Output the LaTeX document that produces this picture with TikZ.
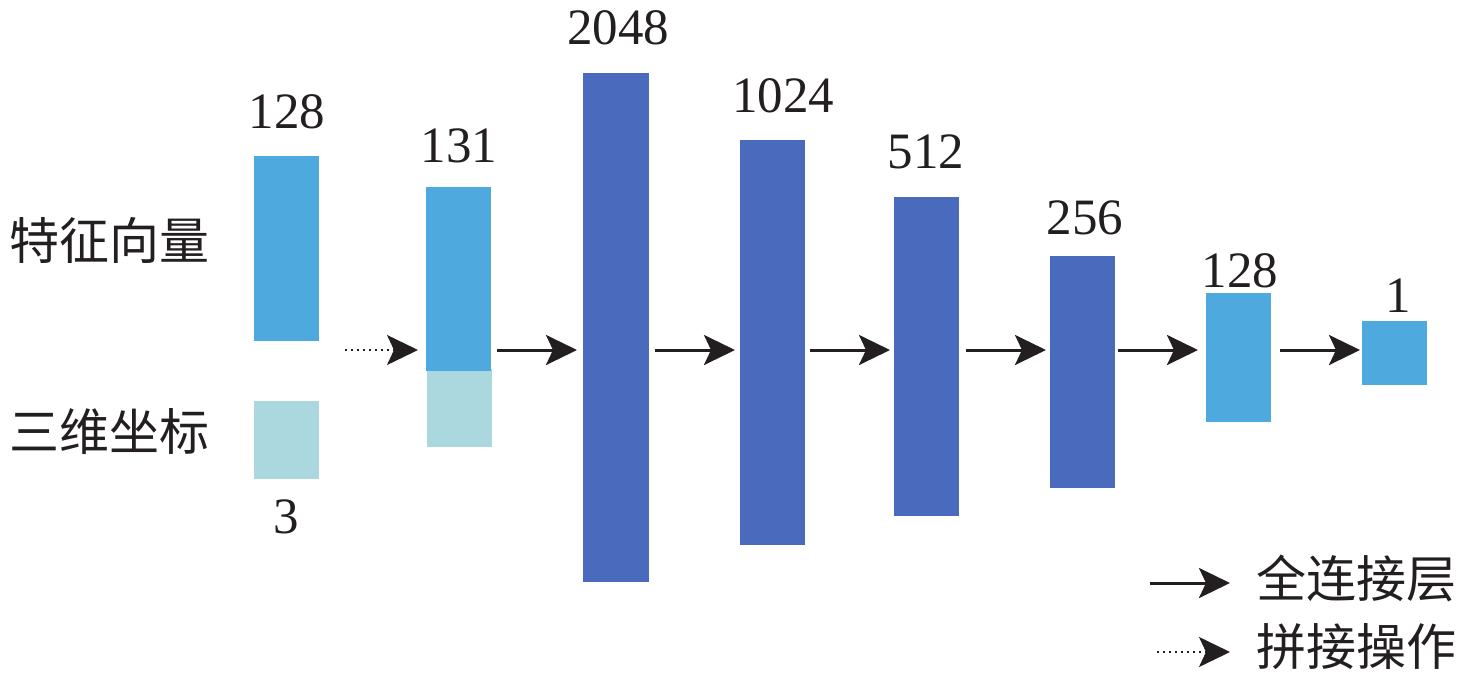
\documentclass[tikz,border=0pt]{standalone}
\usepackage{fontspec}
\setmainfont{Liberation Serif}
\newfontfamily\cjk{Noto Sans CJK SC}
\usetikzlibrary{arrows.meta}
\definecolor{lblue}{HTML}{4EA9DF}
\definecolor{pale}{HTML}{ABD7DE}
\definecolor{dblue}{HTML}{4A6BBD}
\definecolor{ink}{HTML}{231F20}
\tikzset{
  bar/.style={draw=none, inner sep=0, outer sep=0, anchor=north west},
  num/.style={font=\fontsize{51}{51}\selectfont, text=ink, inner sep=0},
  cjklab/.style={font=\cjk\fontsize{50}{50}\selectfont, text=ink, inner sep=0},
  arr/.style={line width=3pt, draw=ink, -{Stealth[length=31pt,width=30pt,inset=7pt]}},
  darr/.style={line width=1.8pt, draw=ink, dash pattern=on 1.8pt off 4.2pt, -{Stealth[length=31pt,width=30pt,inset=7pt]}}
}
\begin{document}
\begin{tikzpicture}[x=1pt,y=-1pt]
\useasboundingbox (0,0) rectangle (1476,678);
% bars
\node[bar, fill=lblue, minimum width=65pt, minimum height=185pt] (A) at (254,156) {};
\node[bar, fill=pale,  minimum width=65pt, minimum height=78pt]  (B) at (254,401) {};
\node[bar, fill=pale,  minimum width=65pt, minimum height=78pt]  (C2) at (427,369) {};
\node[bar, fill=lblue, minimum width=65pt, minimum height=184pt] (C) at (426,187) {};
\node[bar, fill=dblue, minimum width=66pt, minimum height=509pt] (D) at (583,73) {};
\node[bar, fill=dblue, minimum width=65pt, minimum height=405pt] (E) at (740,140) {};
\node[bar, fill=dblue, minimum width=65pt, minimum height=319pt] (F) at (894,197) {};
\node[bar, fill=dblue, minimum width=65pt, minimum height=232pt] (G) at (1050,256) {};
\node[bar, fill=lblue, minimum width=65pt, minimum height=129pt] (H) at (1206,293) {};
\node[bar, fill=lblue, minimum width=65pt, minimum height=64pt]  (I) at (1362,321) {};
% numbers
\node[num] (tA) at (287,112) {128};
\node[num] (tB) at (286,517) {3};
\node[num] (tC) at (459,146) {131};
\node[num] (tD) at (618,28) {2048};
\node[num] (tE) at (783,96) {1024};
\node[num] (tF) at (926,152) {512};
\node[num] (tG) at (1085,218) {256};
\node[num] (tH) at (1240,271) {128};
\node[num] (tI) at (1398,296) {1};
% side labels
\node[cjklab, anchor=west] (lA) at (9,240) {特征向量};
\node[cjklab, anchor=west] (lB) at (9,432) {三维坐标};
% arrows
\coordinate (ya) at (0,350);
\draw[darr, shorten <=26pt, shorten >=8pt] (A.east |- ya) -- (C.west |- ya);
\draw[arr, shorten <=6pt, shorten >=6pt] (C.east |- ya) -- (D.west |- ya);
\draw[arr, shorten <=6pt, shorten >=5pt] (D.east |- ya) -- (E.west |- ya);
\draw[arr, shorten <=5pt, shorten >=4pt] (E.east |- ya) -- (F.west |- ya);
\draw[arr, shorten <=7pt, shorten >=4pt] (F.east |- ya) -- (G.west |- ya);
\draw[arr, shorten <=3pt, shorten >=8pt] (G.east |- ya) -- (H.west |- ya);
\draw[arr, shorten <=9pt, shorten >=2pt] (H.east |- ya) -- (I.west |- ya);
% legend
\coordinate (l1s) at (1150,583);
\coordinate (l1e) at (1230,583);
\coordinate (l2s) at (1157,652);
\coordinate (l2e) at (1230,652);
\draw[arr] (l1s) -- (l1e);
\draw[darr] (l2s) -- (l2e);
\node[cjklab, anchor=west] (leg1) at (1256,578) {全连接层};
\node[cjklab, anchor=west] (leg2) at (1256,647) {拼接操作};
\end{tikzpicture}
\end{document}
